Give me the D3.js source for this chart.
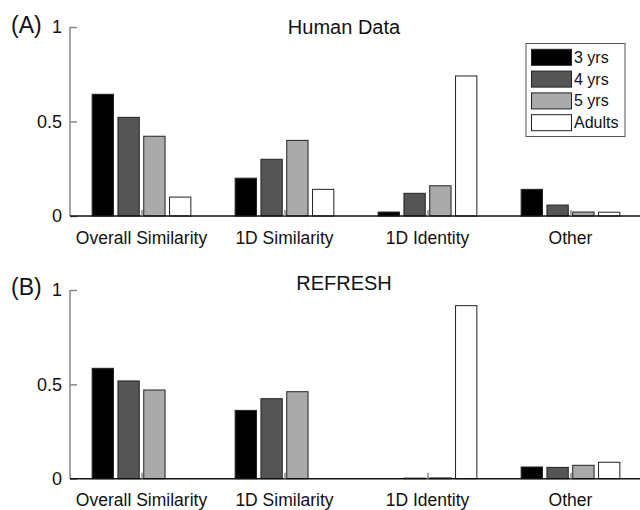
<!DOCTYPE html>
<html>
<head>
<meta charset="utf-8">
<script src="https://cdn.jsdelivr.net/npm/d3@7"></script>
<style>
  body { margin: 0; background: #fff; }
  svg { display: block; }
  text { font-family: "Liberation Sans", Arial, Helvetica, sans-serif; fill: #111; }
</style>
</head>
<body>
<svg id="chart" width="640" height="510"></svg>
<script>
const categories = ["Overall Similarity", "1D Similarity", "1D Identity", "Other"];
const seriesNames = ["3 yrs", "4 yrs", "5 yrs", "Adults"];
const seriesColors = ["#000000", "#555555", "#aaaaaa", "#ffffff"];
const yTicks = [0, 0.5, 1];
const yTickLabels = ["0", "0.5", "1"];

// Panel A: Human Data  (rows = categories, columns = series)
const humanData = [
  [0.644, 0.522, 0.422, 0.100],
  [0.200, 0.300, 0.400, 0.141],
  [0.021, 0.120, 0.160, 0.741],
  [0.141, 0.058, 0.021, 0.020]
];
// Panel B: REFRESH
const refreshData = [
  [0.585, 0.518, 0.470, 0.000],
  [0.362, 0.424, 0.461, 0.000],
  [0.000, 0.003, 0.004, 0.917],
  [0.062, 0.060, 0.071, 0.087]
];

const panels = [
  { label: "(A)", title: "Human Data", data: humanData, y0: 216, y1: 27, labelY: 33, titleY: 34, catY: 244, legend: true },
  { label: "(B)", title: "REFRESH", data: refreshData, y0: 478.7, y1: 290, labelY: 295, titleY: 290, catY: 506, legend: false }
];

const svg = d3.select("#chart");
const x = d3.scaleLinear().domain([0.5, 4.5]).range([70, 642]);
const inner = d3.scaleBand().domain(d3.range(seriesNames.length)).range([-51.6, 51.6]).paddingInner(0.174).paddingOuter(0.087);

panels.forEach(p => {
  const g = svg.append("g");
  const y = d3.scaleLinear().domain([0, 1]).range([p.y0, p.y1]);

  // bars
  p.data.forEach((row, ci) => {
    row.forEach((v, si) => {
      g.append("rect")
        .attr("x", x(ci + 1) + inner(si))
        .attr("y", y(v))
        .attr("width", inner.bandwidth())
        .attr("height", y(0) - y(v))
        .attr("fill", seriesColors[si])
        .attr("stroke", "#222")
        .attr("stroke-width", 1);
    });
  });

  // y axis
  const yAxis = d3.axisLeft(y).tickValues(yTicks).tickSize(-7).tickPadding(8)
    .tickFormat((d, i) => yTickLabels[i]);
  const ya = g.append("g").attr("transform", "translate(70,0)").call(yAxis);
  ya.select(".domain").attr("stroke", "#888").attr("stroke-width", 1.5).attr("d", `M0,${y(0)}V${y(1)}`);
  ya.selectAll(".tick line").attr("stroke", "#888").attr("stroke-width", 1.5);
  ya.selectAll(".tick text").attr("font-size", 18).attr("font-family", "Liberation Sans, Arial, sans-serif").attr("fill", "#111");

  // x axis
  const xAxis = d3.axisBottom(x).tickValues([1, 2, 3, 4]).tickSize(-6).tickPadding(0).tickFormat("");
  const xa = g.append("g").attr("transform", `translate(0,${y(0)})`).call(xAxis);
  xa.select(".domain").attr("stroke", "#111").attr("stroke-width", 1.5).attr("d", "M70,0H640");
  xa.selectAll(".tick line").attr("stroke", "#888").attr("stroke-width", 1.5);

  // category labels
  g.selectAll(".cat").data(categories).enter().append("text")
    .attr("x", (d, i) => x(i + 1))
    .attr("y", p.catY)
    .attr("text-anchor", "middle")
    .attr("font-size", 17.5)
    .text(d => d);

  // title
  g.append("text").attr("x", 344).attr("y", p.titleY).attr("text-anchor", "middle")
    .attr("font-size", 20).text(p.title);
  // panel label
  g.append("text").attr("x", 11).attr("y", p.labelY).attr("font-size", 23).text(p.label);

  if (p.legend) {
    const lg = g.append("g");
    lg.append("rect").attr("x", 526).attr("y", 43.5).attr("width", 99).attr("height", 93)
      .attr("fill", "#fff").attr("stroke", "#555").attr("stroke-width", 1);
    seriesNames.forEach((s, i) => {
      const cy = 57.3 + i * 21.8;
      lg.append("rect").attr("x", 531.5).attr("y", cy - 8).attr("width", 40).attr("height", 16)
        .attr("fill", seriesColors[i]).attr("stroke", "#222").attr("stroke-width", 1);
      lg.append("text").attr("x", 574).attr("y", cy + 5.5).attr("font-size", 16).text(s);
    });
  }
});
</script>
</body>
</html>
